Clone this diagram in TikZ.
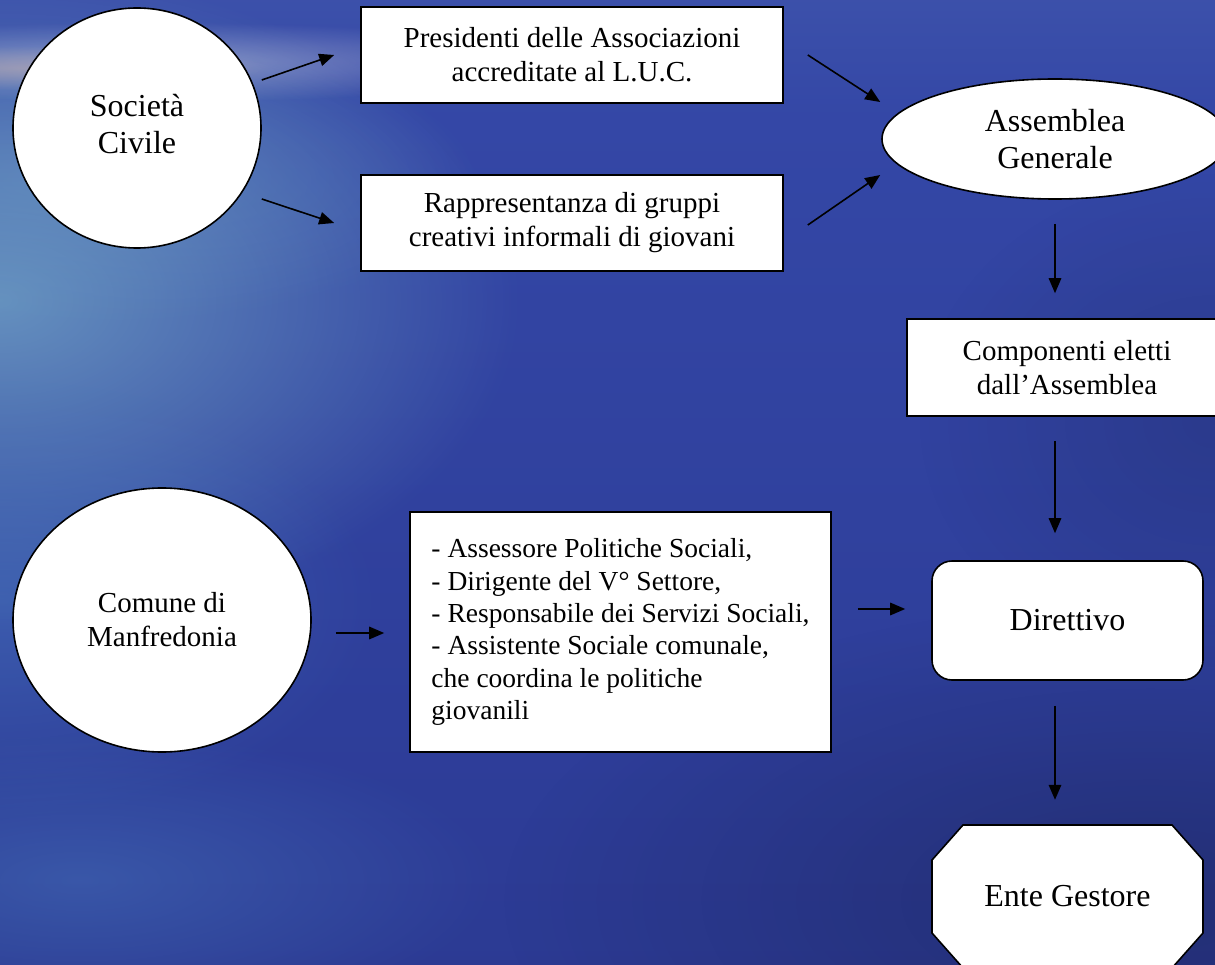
\documentclass[tikz,border=0pt]{standalone}
\usepackage{fontspec}
\setmainfont{Liberation Serif}
\usetikzlibrary{shapes.geometric,arrows.meta,fadings}
\definecolor{c0}{HTML}{283386}
\definecolor{c1}{HTML}{2E3E9A}
\definecolor{c2}{HTML}{3447A6}
\definecolor{c3}{HTML}{4A62B2}
\definecolor{c4}{HTML}{7486C0}
\definecolor{c5}{HTML}{A4ABCD}
\definecolor{c6}{HTML}{8E98C8}
\definecolor{c7}{HTML}{6D7BC0}
\definecolor{c8}{HTML}{5C6AB8}
\definecolor{glowc}{HTML}{6E9EC4}
\definecolor{glowb}{HTML}{4C80C4}
\definecolor{warm}{HTML}{D8B8A8}
\definecolor{cloud}{HTML}{C8CCE0}
\pgfdeclareverticalshading{sea}{100bp}{color(0bp)=(c0); color(37.8bp)=(c1); color(68.9bp)=(c2); color(86.5bp)=(c3); color(90.5bp)=(c4); color(93.4bp)=(c5); color(95.5bp)=(c6); color(97.6bp)=(c7); color(100bp)=(c8)}
\tikzfading[name=glowfade, inner color=transparent!0, outer color=transparent!100]
\tikzset{
  shapebox/.style={draw=black, line width=1.6pt, fill=white, text=black, inner sep=0pt, align=center},
  bigtxt/.style={font=\fontsize{32}{37}\selectfont},
  midtxt/.style={font=\fontsize{29}{34}\selectfont},
  arr/.style={-{Triangle[length=15pt,width=12.5pt]}, line width=1.6pt, draw=black}
}
\begin{document}
\begin{tikzpicture}[x=1pt,y=-1pt]
\useasboundingbox (0,0) rectangle (1215,965);
\begin{scope}
\clip (0,0) rectangle (1215,965);
\shade[shading=sea] (0,0) rectangle (1215,965);
\fill[glowc, path fading=glowfade, fill opacity=0.85] (0,300) ellipse (520 and 330);
\fill[glowc, path fading=glowfade, fill opacity=0.45] (60,180) ellipse (420 and 150);
\fill[glowb, path fading=glowfade, fill opacity=0.45] (0,600) ellipse (380 and 220);
\fill[glowb, path fading=glowfade, fill opacity=0.4] (80,880) ellipse (420 and 150);
\fill[cloud, path fading=glowfade, fill opacity=0.5] (150,62) ellipse (420 and 40);
\fill[warm, path fading=glowfade, fill opacity=0.4] (30,68) ellipse (240 and 22);
\fill[black, path fading=glowfade, fill opacity=0.22] (1150,900) ellipse (650 and 300);
\fill[black, path fading=glowfade, fill opacity=0.12] (1215,420) ellipse (300 and 250);

% nodes
\node[shapebox, bigtxt, ellipse, minimum width=248pt, minimum height=240pt] (soc) at (137,128) {\raisebox{5pt}{\begin{tabular}{@{}c@{}}Società\\Civile\end{tabular}}};
\node[shapebox, midtxt, rectangle, minimum width=422pt, minimum height=96pt] (pres) at (572,55) {Presidenti delle Associazioni\\accreditate al L.U.C.};
\node[shapebox, midtxt, rectangle, minimum width=422pt, minimum height=96pt] (rap) at (572,223) {Rappresentanza di gruppi\\creativi informali di giovani};
\node[shapebox, bigtxt, ellipse, minimum width=346pt, minimum height=120pt] (asm) at (1055,139) {Assemblea\\Generale};
\node[shapebox, midtxt, rectangle, minimum width=320pt, minimum height=97pt] (comp) at (1067,367.5) {Componenti eletti\\dall’Assemblea};
\node[shapebox, bigtxt, rectangle, rounded corners=20pt, minimum width=271pt, minimum height=119pt] (dir) at (1067.5,620.5) {Direttivo};
\node[shapebox, midtxt, ellipse, minimum width=298pt, minimum height=264pt] (com) at (162,620) {Comune di\\Manfredonia};
\node[shapebox, rectangle, minimum width=421pt, minimum height=240pt, align=left, font=\fontsize{27.5}{32.3}\selectfont] (lst) at (620.5,632)
  {- Assessore Politiche Sociali,\\
   - Dirigente del V° Settore,\\
   - Responsabile dei Servizi Sociali,\\
   - Assistente Sociale comunale,\\
   che coordina le politiche\\
   giovanili};
% Ente Gestore octagon
\draw[line width=1.6pt, fill=white] (963,825) -- (1172,825) -- (1203,860) -- (1203,933) -- (1172,968) -- (963,968) -- (932,933) -- (932,860) -- cycle;
\node[bigtxt, inner sep=0pt, minimum width=271pt, minimum height=143pt] (ente) at (1067.5,896.5) {Ente Gestore};

% connectors
\draw[arr] ([yshift=48pt]soc.east) -- ([xshift=-26pt]pres.west);
\draw[arr] ([yshift=-71pt]soc.east) -- ([xshift=-26pt]rap.west);
\draw[arr] ([xshift=24pt]pres.east) -- ([xshift=-1pt,yshift=37pt]asm.west);
\draw[arr] ([xshift=24pt,yshift=-2pt]rap.east) -- ([xshift=-1pt,yshift=-36pt]asm.west);
\draw[arr] ([yshift=-24pt]asm.south) -- ([xshift=-12pt,yshift=25pt]comp.north);
\draw[arr] ([xshift=-12pt,yshift=-24pt]comp.south) -- ([xshift=-12.5pt,yshift=27pt]dir.north);
\draw[arr] ([xshift=-12.5pt,yshift=-25pt]dir.south) -- ([xshift=-12.5pt,yshift=25pt]ente.north);
\draw[arr] ([xshift=24pt,yshift=-13pt]com.east) -- ([xshift=-25pt,yshift=-1pt]lst.west);
\draw[arr] ([xshift=26pt,yshift=23pt]lst.east) -- ([xshift=-26pt,yshift=11.5pt]dir.west);
\end{scope}
\end{tikzpicture}
\end{document}
